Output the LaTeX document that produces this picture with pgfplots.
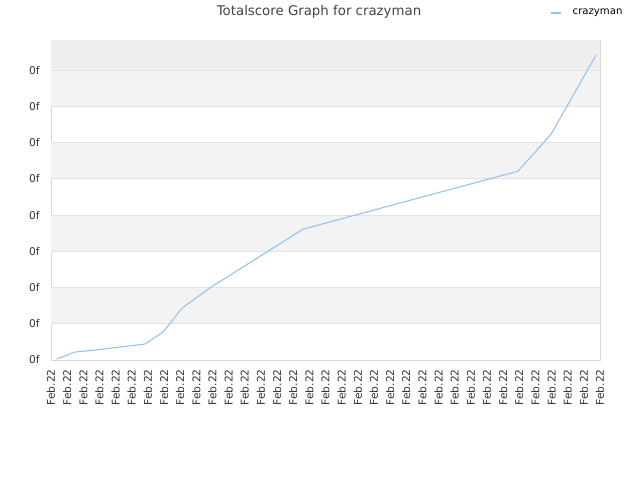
\documentclass[border=0pt]{standalone}
\usepackage{pgfplots}
\pgfplotsset{compat=1.18}
\usepackage{fontspec}
\setmainfont{DejaVu Sans}
\definecolor{lineblue}{HTML}{92C2F2}
\definecolor{bandgray}{HTML}{F3F3F3}
\definecolor{topgray}{HTML}{EEEEEE}
\definecolor{gridgray}{HTML}{E2E2E2}
\definecolor{axisgray}{HTML}{D8D8D8}
\definecolor{txt}{HTML}{333333}
\definecolor{ttl}{HTML}{444444}
\begin{document}
\begin{tikzpicture}[x=0.75pt,y=0.75pt]
\path[use as bounding box] (0,0) rectangle (640,480);
\node[text=ttl,font=\fontsize{10}{12}\selectfont] at (319,468) {Totalscore Graph for crazyman};
\draw[lineblue,line width=1.3pt] (551,467) -- (561,467);
\node[text=black,font=\fontsize{7.6}{9}\selectfont,anchor=west] at (568,467.5) {crazyman};
\begin{axis}[
  at={(51*0.75pt,120*0.75pt)}, anchor=south west,
  scale only axis, width=411.75pt, height=240pt,
  xmin=0, xmax=34, ymin=0, ymax=8.83,
  xtick={0,1,...,34},
  xticklabel={Feb.22},
  ytick={0,1,...,8},
  yticklabel={0f},
  tick style={draw=none},
  ticklabel style={text=txt,font=\fontsize{8}{9}\selectfont},
  xticklabel style={rotate=90,anchor=east},
  xticklabel shift=3.5pt,
  yticklabel style={xshift=-5pt},
  axis line style={axisgray},
  clip=true,
]
\fill[bandgray] (axis cs:0,1) rectangle (axis cs:34,2);
\fill[bandgray] (axis cs:0,3) rectangle (axis cs:34,4);
\fill[bandgray] (axis cs:0,5) rectangle (axis cs:34,6);
\fill[bandgray] (axis cs:0,7) rectangle (axis cs:34,8);
\fill[topgray] (axis cs:0,8) rectangle (axis cs:34,8.83);
\foreach \k in {1,...,8}{
  \edef\temp{\noexpand\draw[gridgray,line width=0.75pt] (axis cs:0,\k) -- (axis cs:34,\k);}
  \temp
}
\addplot[lineblue,line width=0.8pt] coordinates {
(0.37,0.03) (1.49,0.22) (2.42,0.26) (5.82,0.44) (6.94,0.77) (8.11,1.43)
(9.91,2.01) (15.61,3.61) (28.92,5.21) (30.97,6.23) (33.75,8.41)
};
\end{axis}
\end{tikzpicture}
\end{document}
